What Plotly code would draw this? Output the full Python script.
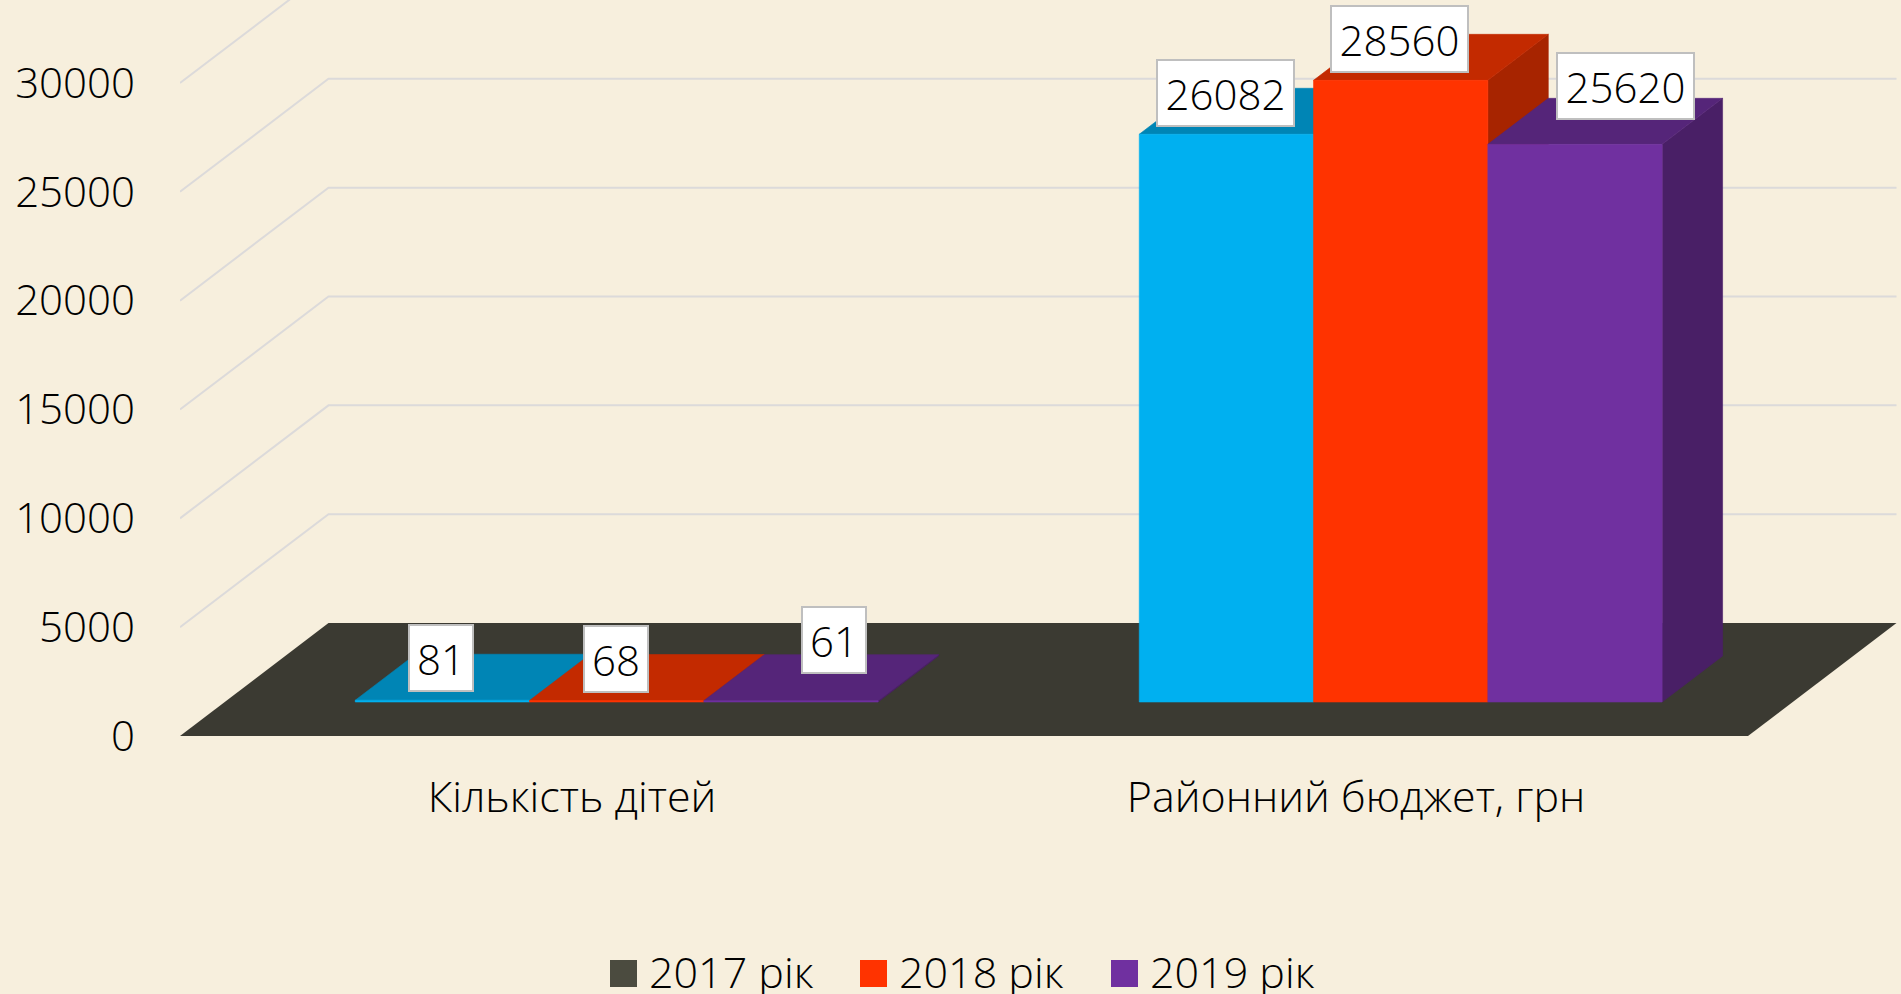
import plotly.graph_objects as go

categories = ["Кількість дітей", "Районний бюджет, грн"]
series_names = ["2017 рік", "2018 рік", "2019 рік"]
values_2017 = [81, 26082]
values_2018 = [68, 28560]
values_2019 = [61, 25620]
tick_values = [0, 5000, 10000, 15000, 20000, 25000, 30000]

# Styles
BG = "#F7EFDD"
FONT = dict(family="Open Sans", size=42, color="#000000", weight=300)
FONT_CAT = dict(family="Open Sans", size=43, color="#000000", weight=300)
FRONT = ["#00B0F0", "#FF3300", "#7030A0"]
TOP = ["#0085B5", "#C32A00", "#552579"]
SIDE = ["#007DA8", "#A72400", "#491F66"]
LEGEND_COL = ["#4B4B3F", "#FF3300", "#7030A0"]

# Oblique projection of the chart's box: how far the back wall is shifted
DEPTH_X = 148.5 / 784          # category units
DEPTH_Y = 113 / 0.021767       # value units
BAR_D0, BAR_D1 = 0.301, 0.708  # depth span of the bars
BAR_W = 174.3 / 784
Y_MAX = 736 / 0.021767
X_MIN, X_MAX = -0.5, -0.5 + 1721 / 784
FLOOR_L, FLOOR_R = -0.5, 1.5
# label box nudges in pixels, [series][category] -> (x, y)
LABEL_SHIFT = [[(-1, 42), (-1, 41)],
               [(-1, 42), (-1, 41)],
               [(43, 61), (50, 58)]]


def pt(x, v, d):
    return x + d * DEPTH_X, v + d * DEPTH_Y


def poly(points, color, name=None, edge=0):
    xs = [p[0] for p in points] + [points[0][0]]
    ys = [p[1] for p in points] + [points[0][1]]
    return go.Scatter(x=xs, y=ys, mode="lines", fill="toself", fillcolor=color,
                      line=dict(color=color, width=edge), hoverinfo="skip",
                      showlegend=False, name=name)


fig = go.Figure()

# Wall gridlines
for v in tick_values[1:]:
    a, b, c = pt(FLOOR_L, v, 0), pt(FLOOR_L, v, 1), pt(FLOOR_R, v, 1)
    fig.add_trace(go.Scatter(x=[a[0], b[0], c[0]], y=[a[1], b[1], c[1]], mode="lines",
                             line=dict(color="#DCDADA", width=2), hoverinfo="skip",
                             showlegend=False))

# Floor
fig.add_trace(poly([pt(FLOOR_L, 0, 0), pt(FLOOR_R, 0, 0), pt(FLOOR_R, 0, 1), pt(FLOOR_L, 0, 1)],
                   "#3B3A32"))

# Bars, painted back-to-front per series
all_series = [values_2017, values_2018, values_2019]
annotations = []
for s, vals in enumerate(all_series):
    for c, v in enumerate(vals):
        x0 = c - 1.5 * BAR_W + s * BAR_W
        x1 = x0 + BAR_W
        fig.add_trace(poly([pt(x1, 0, BAR_D0), pt(x1, 0, BAR_D1), pt(x1, v, BAR_D1), pt(x1, v, BAR_D0)],
                           SIDE[s], series_names[s], edge=0.6))
        fig.add_trace(poly([pt(x0, v, BAR_D0), pt(x1, v, BAR_D0), pt(x1, v, BAR_D1), pt(x0, v, BAR_D1)],
                           TOP[s], series_names[s], edge=0.6))
        fig.add_trace(poly([pt(x0, 0, BAR_D0), pt(x1, 0, BAR_D0), pt(x1, v, BAR_D0), pt(x0, v, BAR_D0)],
                           FRONT[s], series_names[s], edge=0.6))
for s, vals in enumerate(all_series):
    for c, v in enumerate(vals):
        cx, cy = pt(c - 1.5 * BAR_W + (s + 0.5) * BAR_W, v, BAR_D0)
        annotations.append(dict(
            x=cx, y=cy, xref="x", yref="y", text=str(v), showarrow=False,
            xshift=LABEL_SHIFT[s][c][0], yshift=LABEL_SHIFT[s][c][1],
            font=FONT, bgcolor="#FFFFFF", bordercolor="#BFBFBF", borderwidth=2,
            width=135 if v > 999 else 62, height=64, borderpad=0, align="center", valign="middle"))

# Legend row
PW, PH = 1721, 736
shapes = []
for s, (name, sx, tx) in enumerate(zip(series_names, [610, 860, 1111], [647, 897, 1148])):
    shapes.append(dict(type="rect", xref="paper", yref="paper",
                       x0=(sx - 180) / PW, x1=(sx + 27 - 180) / PW,
                       y0=(PH - 960) / PH, y1=(PH - 987) / PH,
                       fillcolor=LEGEND_COL[s], line_width=0))
    annotations.append(dict(x=(tx - 180) / PW, y=(PH - 971) / PH, xref="paper", yref="paper",
                            xanchor="left", yanchor="middle", text=name, showarrow=False,
                            font=FONT_CAT))

fig.update_layout(
    width=1901, height=994, autosize=False,
    margin=dict(l=180, r=0, t=0, b=258, autoexpand=False),
    paper_bgcolor=BG, plot_bgcolor=BG, showlegend=False,
    font=FONT, shapes=shapes, annotations=annotations,
    xaxis=dict(range=[X_MIN, X_MAX], tickmode="array", tickvals=[0, 1], ticktext=categories,
               showgrid=False, zeroline=False, showline=False, ticks="", ticklabelstandoff=32,
               tickfont=FONT_CAT),
    yaxis=dict(range=[0, Y_MAX], tickmode="array", tickvals=tick_values,
               ticktext=[str(v) for v in tick_values], showgrid=False, zeroline=False,
               showline=False, ticks="", ticklabelstandoff=44, tickfont=FONT),
)
fig.write_html("out.html", config={"displayModeBar": False},
               post_script="document.body.style.margin='0';document.body.style.background='%s';"
                           "document.documentElement.style.overflow='hidden';" % BG)
